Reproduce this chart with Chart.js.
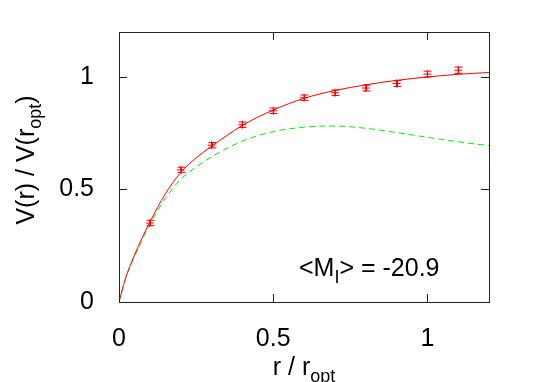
<!DOCTYPE html>
<html>
<head>
<meta charset="utf-8">
<script src="https://cdn.jsdelivr.net/npm/chart.js@4/dist/chart.umd.min.js"></script>
<style>
  html, body { margin: 0; padding: 0; background: #fff; }
  #wrap { width: 534px; height: 382px; }
</style>
</head>
<body>
<div id="wrap"><canvas id="grafico" width="534" height="382"></canvas></div>
<script>
// pontos medidos (com barras de erro)
const obsR = [0.1, 0.2, 0.3, 0.4, 0.5, 0.6, 0.7, 0.8, 0.9, 1.0, 1.1];
const obsV = [0.351, 0.587, 0.697, 0.788, 0.850, 0.908, 0.930, 0.951, 0.971, 1.013, 1.030];
const obsErr = [0.012, 0.012, 0.012, 0.012, 0.012, 0.012, 0.012, 0.013, 0.013, 0.013, 0.014];

// curva ajustada (vermelha)
const fitR = [0, 0.02, 0.04, 0.07, 0.1, 0.15, 0.2, 0.25, 0.3, 0.35, 0.4, 0.5, 0.6, 0.7, 0.8, 0.9, 1.0, 1.1, 1.2];
const fitV = [0, 0.10, 0.175, 0.27, 0.355, 0.48, 0.575, 0.64, 0.692, 0.74, 0.785, 0.853, 0.905, 0.94, 0.965, 0.985, 1.0, 1.012, 1.02];

// curva tracejada (verde)
const diskR = [0, 0.02, 0.04, 0.07, 0.1, 0.15, 0.2, 0.25, 0.3, 0.4, 0.5, 0.6, 0.7, 0.8, 0.9, 1.0, 1.1, 1.2];
const diskV = [0, 0.10, 0.17, 0.26, 0.345, 0.46, 0.545, 0.60, 0.645, 0.715, 0.757, 0.777, 0.782, 0.772, 0.753, 0.732, 0.712, 0.695];

const xTicks = [0, 0.5, 1];
const yTicks = [0, 0.5, 1];

const FONTE = '"Liberation Sans", Arial, Helvetica, sans-serif';

const toPts = (xs, ys) => xs.map((x, i) => ({ x: x, y: ys[i] }));

// desenha texto com subscrito, peça por peça
function textoComSub(ctx, partes, x, y, tam) {
    let cx = x;
    partes.forEach((p) => {
        const t = p.sub ? tam * 0.72 : tam;
        ctx.font = t + 'px ' + FONTE;
        ctx.fillText(p.txt, cx, y + (p.sub ? tam * 0.28 : 0));
        cx += ctx.measureText(p.txt).width;
    });
    return cx - x;
}
function larguraSub(ctx, partes, tam) {
    let w = 0;
    partes.forEach((p) => {
        ctx.font = (p.sub ? tam * 0.72 : tam) + 'px ' + FONTE;
        w += ctx.measureText(p.txt).width;
    });
    return w;
}

const molduraPlugin = {
    id: 'moldura',
    afterDatasetsDraw(chart) {
        const ctx = chart.ctx;
        const a = chart.chartArea;
        const sx = chart.scales.x, sy = chart.scales.y;

        // barras de erro
        ctx.save();
        ctx.strokeStyle = '#ff0000';
        ctx.lineWidth = 1;
        obsR.forEach((r, i) => {
            const px = Math.round(sx.getPixelForValue(r)) + 0.5;
            const y1 = sy.getPixelForValue(obsV[i] - obsErr[i]);
            const y2 = sy.getPixelForValue(obsV[i] + obsErr[i]);
            ctx.beginPath();
            ctx.moveTo(px, y1); ctx.lineTo(px, y2);
            ctx.moveTo(px - 4, y1); ctx.lineTo(px + 4, y1);
            ctx.moveTo(px - 4, y2); ctx.lineTo(px + 4, y2);
            ctx.stroke();
        });
        ctx.restore();

        // moldura e ticks para dentro
        ctx.save();
        ctx.strokeStyle = '#222';
        ctx.lineWidth = 1;
        ctx.strokeRect(Math.round(a.left) + 0.5, Math.round(a.top) + 0.5,
            Math.round(a.right - a.left), Math.round(a.bottom - a.top));
        ctx.beginPath();
        xTicks.forEach((v) => {
            const px = Math.round(sx.getPixelForValue(v)) + 0.5;
            ctx.moveTo(px, a.bottom); ctx.lineTo(px, a.bottom - 8);
            ctx.moveTo(px, a.top); ctx.lineTo(px, a.top + 8);
        });
        yTicks.forEach((v) => {
            const py = Math.round(sy.getPixelForValue(v)) + 0.5;
            ctx.moveTo(a.left, py); ctx.lineTo(a.left + 8, py);
            ctx.moveTo(a.right, py); ctx.lineTo(a.right - 8, py);
        });
        ctx.stroke();
        ctx.restore();

        // textos: títulos e anotação
        ctx.save();
        ctx.fillStyle = '#000';
        ctx.textBaseline = 'alphabetic';
        ctx.textAlign = 'left';
        const tam = 25;

        const tituloX = [{ txt: 'r / r' }, { txt: 'opt', sub: true }];
        const wx = larguraSub(ctx, tituloX, tam);
        textoComSub(ctx, tituloX, (a.left + a.right) / 2 - wx / 2, 375, tam);

        const tituloY = [{ txt: 'V(r) / V(r' }, { txt: 'opt', sub: true }, { txt: ')' }];
        const wy = larguraSub(ctx, tituloY, tam);
        ctx.translate(34, 160);
        ctx.rotate(-Math.PI / 2);
        textoComSub(ctx, tituloY, -wy / 2, 0, tam);
        ctx.restore();

        ctx.save();
        ctx.fillStyle = '#000';
        ctx.textBaseline = 'alphabetic';
        textoComSub(ctx, [{ txt: '<M' }, { txt: 'I', sub: true }, { txt: '> = -20.9' }], 299, 276, 25);
        ctx.restore();
    }
};

new Chart(document.getElementById('grafico'), {
    type: 'scatter',
    data: {
        datasets: [
            {
                label: 'ajuste',
                data: toPts(fitR, fitV),
                showLine: true,
                borderColor: '#ff0000',
                borderWidth: 1,
                pointRadius: 0,
                cubicInterpolationMode: 'monotone'
            },
            {
                label: 'disco',
                data: toPts(diskR, diskV),
                showLine: true,
                borderColor: '#00ee00',
                borderWidth: 1,
                borderDash: [6, 4],
                pointRadius: 0,
                cubicInterpolationMode: 'monotone'
            },
            {
                label: 'dados',
                data: toPts(obsR, obsV),
                showLine: false,
                pointStyle: 'cross',
                pointRadius: 4,
                borderColor: '#ff0000',
                borderWidth: 1
            }
        ]
    },
    options: {
        responsive: false,
        animation: false,
        devicePixelRatio: 1,
        layout: { padding: { top: 32, right: 45, left: 0, bottom: 0 } },
        plugins: { legend: { display: false }, tooltip: { enabled: false } },
        scales: {
            x: {
                type: 'linear',
                min: 0, max: 1.2,
                grid: { display: false },
                border: { display: false },
                afterFit: (s) => { s.height = 80; },
                afterBuildTicks: (s) => { s.ticks = xTicks.map((v) => ({ value: v })); },
                ticks: {
                    color: '#000',
                    padding: 14,
                    maxRotation: 0,
                    font: { family: FONTE, size: 25 },
                    callback: (v) => String(v)
                }
            },
            y: {
                type: 'linear',
                min: 0, max: 1.2,
                grid: { display: false },
                border: { display: false },
                afterFit: (s) => { s.width = 119; },
                afterBuildTicks: (s) => { s.ticks = yTicks.map((v) => ({ value: v })); },
                ticks: {
                    color: '#000',
                    padding: 17,
                    font: { family: FONTE, size: 25 },
                    callback: (v) => String(v)
                }
            }
        }
    },
    plugins: [molduraPlugin]
});
</script>
</body>
</html>
